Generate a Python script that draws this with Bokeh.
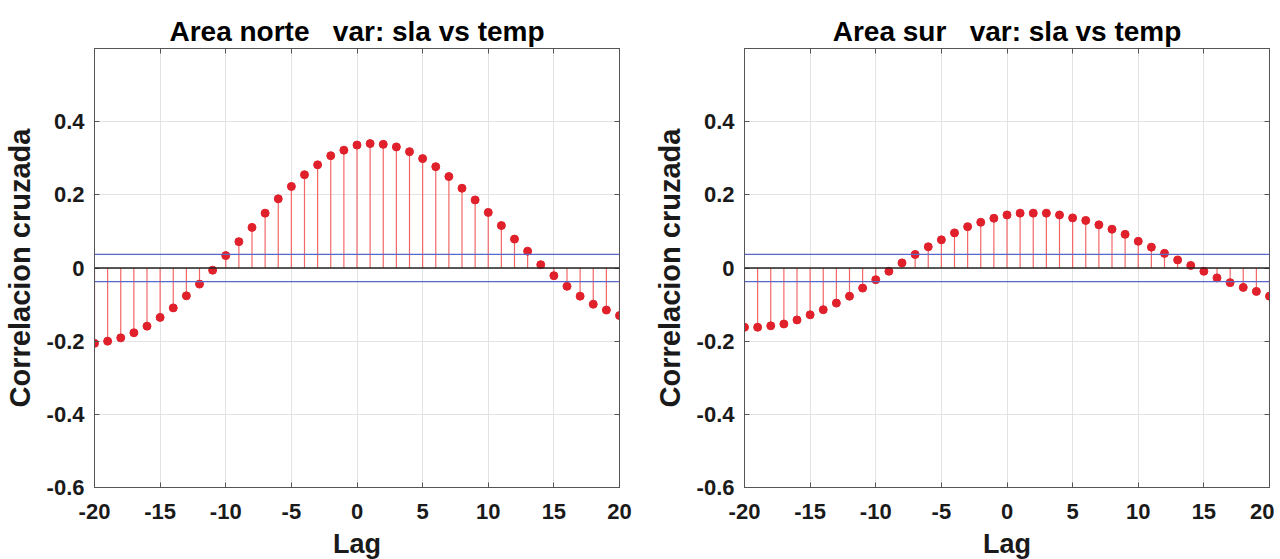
from bokeh.plotting import figure
from bokeh.layouts import row
from bokeh.models import Range1d, FixedTicker, LinearAxis, Span, CustomJSTickFormatter
from bokeh.embed import file_html
from bokeh.resources import INLINE

lags = list(range(-20, 21))

corr_norte = [-0.206, -0.200, -0.191, -0.177, -0.159, -0.135, -0.109, -0.076, -0.044, -0.006,
              0.034, 0.072, 0.111, 0.150, 0.189, 0.223, 0.255, 0.282, 0.307, 0.322,
              0.336, 0.340, 0.338, 0.331, 0.318, 0.299, 0.277, 0.250, 0.218, 0.186,
              0.152, 0.116, 0.079, 0.046, 0.009, -0.021, -0.050, -0.077, -0.099, -0.115,
              -0.130]

corr_sur = [-0.162, -0.162, -0.158, -0.153, -0.142, -0.128, -0.114, -0.096, -0.077, -0.055,
            -0.032, -0.009, 0.014, 0.037, 0.058, 0.077, 0.096, 0.113, 0.125, 0.136,
            0.145, 0.150, 0.150, 0.150, 0.145, 0.137, 0.130, 0.118, 0.106, 0.092,
            0.073, 0.057, 0.040, 0.022, 0.007, -0.009, -0.027, -0.040, -0.053, -0.064,
            -0.077]

conf_bound = 0.037
titles = ["Area norte\u00a0\u00a0 var: sla vs temp", "Area sur\u00a0\u00a0 var: sla vs temp"]
x_ticks = [-20, -15, -10, -5, 0, 5, 10, 15, 20]
y_ticks = [-0.6, -0.4, -0.2, 0, 0.2, 0.4]
x_label = "Lag"
y_label = "Correlacion cruzada"

FONT = "Liberation Sans"
TXT = "#1a1a1a"
FRAME = "#555555"


def make(title, vals, right_border):
    p = figure(frame_width=525, frame_height=439, output_backend="svg",
               toolbar_location=None, x_range=Range1d(-20, 20), y_range=Range1d(-0.6, 0.6),
               min_border_left=90, min_border_right=right_border, min_border_top=48,
               min_border_bottom=64, title=title)
    p.title.text_font = FONT
    p.title.text_font_size = "28px"
    p.title.text_font_style = "bold"
    p.title.text_color = "#000000"
    p.title.align = "center"
    p.title.standoff = 4
    p.outline_line_color = FRAME
    p.outline_line_width = 1
    for ax in (p.xaxis[0], p.yaxis[0]):
        ax.major_label_text_font = FONT
        ax.major_label_text_font_style = "bold"
        ax.major_label_text_font_size = "22px"
        ax.major_label_text_color = TXT
        ax.axis_label_text_font = FONT
        ax.axis_label_text_font_style = "bold"
        ax.axis_label_text_color = TXT
        ax.major_tick_in = 5
        ax.major_tick_out = 0
        ax.minor_tick_in = 0
        ax.minor_tick_out = 0
        ax.axis_line_color = FRAME
        ax.major_tick_line_color = FRAME
    p.xaxis[0].ticker = FixedTicker(ticks=x_ticks)
    p.yaxis[0].ticker = FixedTicker(ticks=y_ticks)
    p.xaxis[0].formatter = CustomJSTickFormatter(code="return tick.toFixed(0);")
    p.yaxis[0].formatter = CustomJSTickFormatter(
        code="return Math.abs(tick) < 1e-9 ? '0' : tick.toFixed(1);")
    p.xaxis[0].axis_label = x_label
    p.yaxis[0].axis_label = y_label
    p.xaxis[0].axis_label_text_font_size = "27px"
    p.yaxis[0].axis_label_text_font_size = "29px"
    p.xaxis[0].major_label_standoff = 16
    p.xaxis[0].axis_label_standoff = 7
    p.yaxis[0].major_label_standoff = 10
    p.yaxis[0].axis_label_standoff = 8
    # box axes (top / right) with inner ticks only
    blank = "return '';"
    top = LinearAxis(ticker=FixedTicker(ticks=x_ticks), formatter=CustomJSTickFormatter(code=blank),
                     major_tick_in=5, major_tick_out=0, minor_tick_in=0, minor_tick_out=0,
                     axis_line_color=FRAME, major_tick_line_color=FRAME, major_label_standoff=0)
    rgt = LinearAxis(ticker=FixedTicker(ticks=y_ticks), formatter=CustomJSTickFormatter(code=blank),
                     major_tick_in=5, major_tick_out=0, minor_tick_in=0, minor_tick_out=0,
                     axis_line_color=FRAME, major_tick_line_color=FRAME, major_label_standoff=0)
    p.add_layout(top, "above")
    p.add_layout(rgt, "right")
    p.xgrid.grid_line_color = "#e3e3e3"
    p.ygrid.grid_line_color = "#e3e3e3"
    p.xgrid.ticker = FixedTicker(ticks=x_ticks)
    p.ygrid.ticker = FixedTicker(ticks=y_ticks)

    p.segment(x0=lags, y0=[0] * len(lags), x1=lags, y1=vals, line_color="#f26868", line_width=1.2)
    p.add_layout(Span(location=conf_bound, dimension="width", line_color="#5a68c8", line_width=1.3))
    p.add_layout(Span(location=-conf_bound, dimension="width", line_color="#5a68c8", line_width=1.3))
    p.add_layout(Span(location=0, dimension="width", line_color="#222222", line_width=1.6))
    p.scatter(lags, vals, size=8, fill_color="#e0202a", line_color="#e0202a")
    return p


p1 = make(titles[0], corr_norte, 31)
p2 = make(titles[1], corr_sur, 5)
layout = row(p1, p2)
open("out.html", "w").write(file_html(layout, INLINE))
